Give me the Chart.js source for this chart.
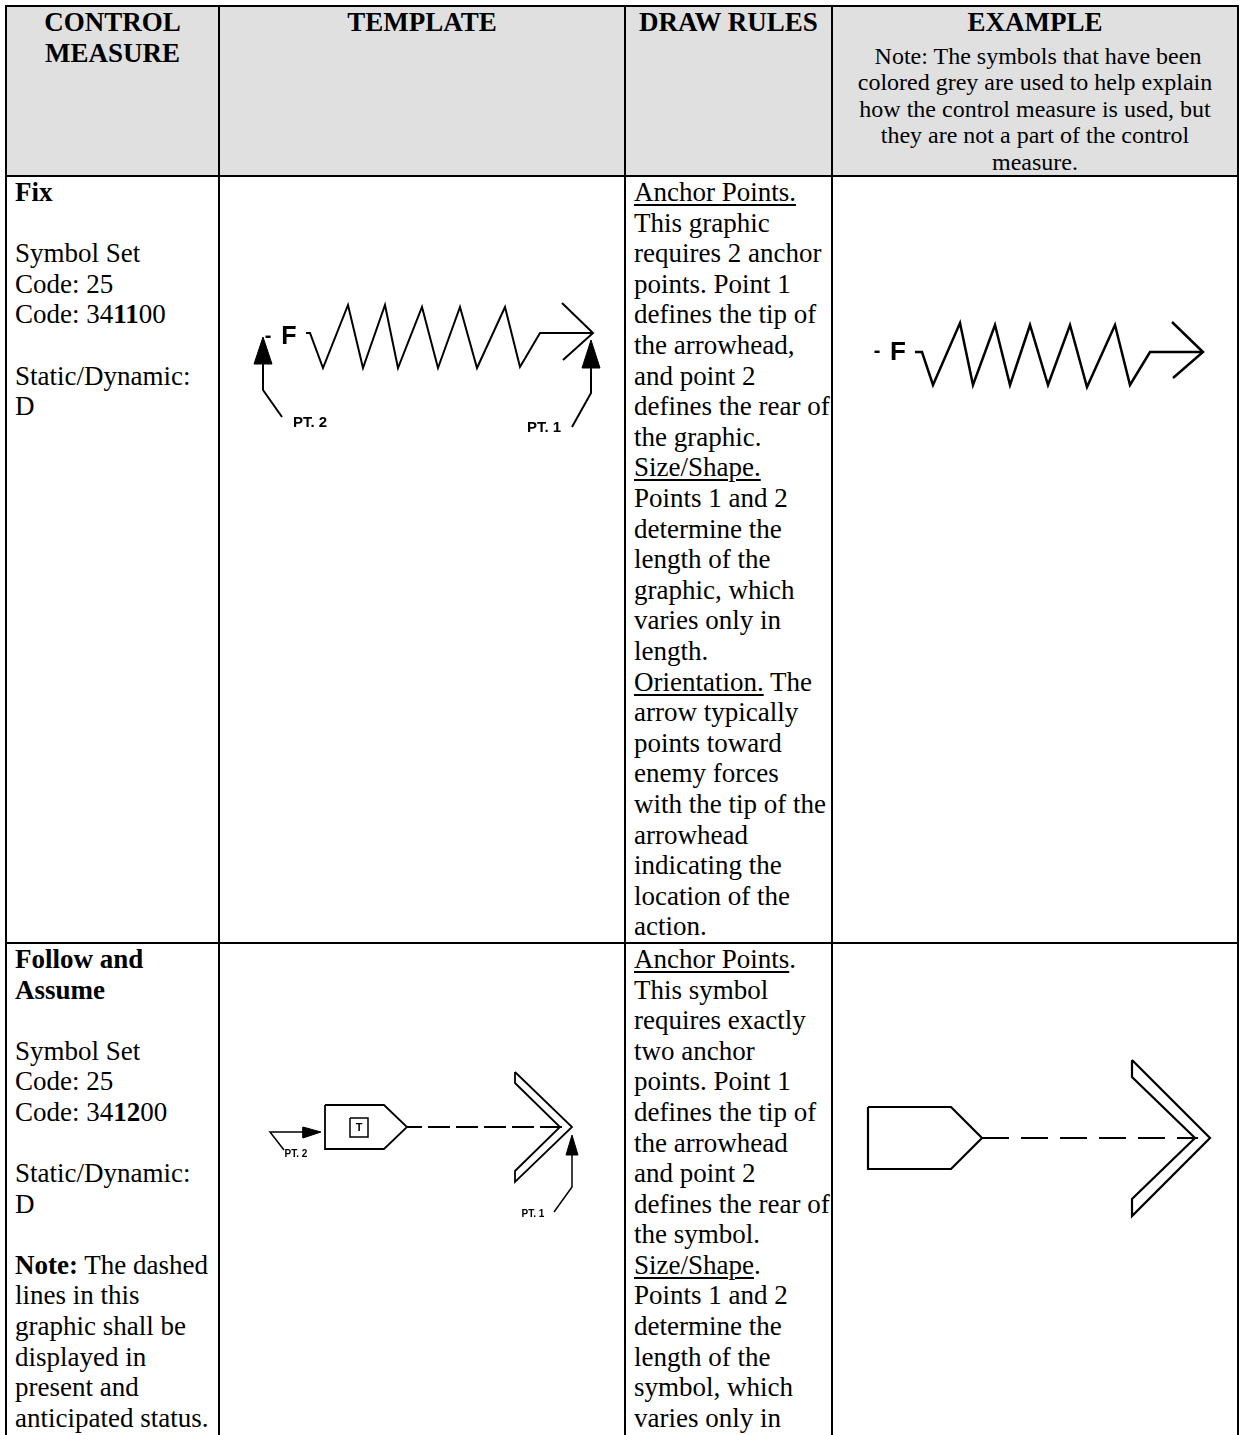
<!DOCTYPE html>
<html>
<head>
<meta charset="utf-8">
<script src="https://cdn.jsdelivr.net/npm/chart.js@4.4.0/dist/chart.umd.min.js"></script>
<style>
  body { margin: 0; background: #fff; }
  #page { position: relative; width: 1239px; height: 1435px; overflow: hidden; }
  table {
    position: absolute; left: 5px; top: 5px;
    border-collapse: collapse; table-layout: fixed; width: 1232px;
    font-family: "Liberation Serif", "Times New Roman", serif; font-size: 27px; line-height: 30.6px;
    color: #000;
  }
  td { border: 2px solid #000; vertical-align: top; padding: 0 3px 0 8px; white-space: nowrap; }
  tr.head td { background: #e0e0e0; text-align: center; font-weight: bold; padding: 0 2px; }
  .note { font-weight: normal; font-size: 24px; line-height: 26.5px; margin-top: 5px; }
  u { text-decoration-thickness: 2px; text-underline-offset: 3px; }
  canvas { position: absolute; }
</style>
</head>
<body>
<div id="page">
<table>
  <colgroup><col style="width:213px"><col style="width:406px"><col style="width:207px"><col style="width:406px"></colgroup>
  <tr class="head" style="height:169px">
    <td>CONTROL<br>MEASURE</td>
    <td>TEMPLATE</td>
    <td>DRAW RULES</td>
    <td>EXAMPLE<div class="note">&nbsp;Note: The symbols that have been<br>colored grey are used to help explain<br>how the control measure is used, but<br>they are not a part of the control<br>measure.</div></td>
  </tr>
  <tr>
    <td><b>Fix</b><br><br>Symbol Set<br>Code: 25<br>Code: 34<b>11</b>00<br><br>Static/Dynamic:<br>D</td>
    <td></td>
    <td><u>Anchor Points.</u><br>This graphic<br>requires 2 anchor<br>points. Point 1<br>defines the tip of<br>the arrowhead,<br>and point 2<br>defines the rear of<br>the graphic.<br><u>Size/Shape.</u><br>Points 1 and 2<br>determine the<br>length of the<br>graphic, which<br>varies only in<br>length.<br><u>Orientation.</u> The<br>arrow typically<br>points toward<br>enemy forces<br>with the tip of the<br>arrowhead<br>indicating the<br>location of the<br>action.</td>
    <td></td>
  </tr>
  <tr style="height:620px">
    <td><b>Follow and<br>Assume</b><br><br>Symbol Set<br>Code: 25<br>Code: 34<b>12</b>00<br><br>Static/Dynamic:<br>D<br><br><b>Note:</b> The dashed<br>lines in this<br>graphic shall be<br>displayed in<br>present and<br>anticipated status.</td>
    <td></td>
    <td><u>Anchor Points</u>.<br>This symbol<br>requires exactly<br>two anchor<br>points. Point 1<br>defines the tip of<br>the arrowhead<br>and point 2<br>defines the rear of<br>the symbol.<br><u>Size/Shape</u>.<br>Points 1 and 2<br>determine the<br>length of the<br>symbol, which<br>varies only in</td>
    <td></td>
  </tr>
</table>
<canvas id="fixTemplate"></canvas>
<canvas id="fixExample"></canvas>
<canvas id="followTemplate"></canvas>
<canvas id="followExample"></canvas>
</div>
<script>
// Symbol geometry, in page units (x to the right, y downward)

// Fix - template
const fixTplSpring = [[306,333],[310,333],[323,368],[348,305],[363,368],[385,305],[398,368],[422,307],[438,368],[460,307],[477,368],[505,307],[520,367],[540,333],[593,333]];
const fixTplHead = [[562,303],[593,333],[563,360]];
const fixTplPt2Line = [[263,360],[263,390],[282,417]];
const fixTplPt2Tip = [[263,337],[254,364],[272,364],[263,337]];
const fixTplPt1Line = [[591,365],[591,393],[572,427]];
const fixTplPt1Tip = [[591,340],[582,368],[600,368],[591,340]];
const fixTplText = [
    { text: '-', x: 268, y: 336, font: 'bold 20px "Liberation Sans"' },
    { text: 'F', x: 289, y: 337, font: 'bold 25px "Liberation Sans"' },
    { text: 'PT. 2', x: 310, y: 423, font: 'bold 15px "Liberation Sans"' },
    { text: 'PT. 1', x: 544, y: 428, font: 'bold 15px "Liberation Sans"' }
];

// Fix - example
const fixExSpring = [[915,352],[922,352],[933,385],[960,323],[973,385],[995,325],[1010,385],[1030,325],[1048,385],[1070,325],[1087,387],[1115,325],[1130,385],[1150,352],[1203,352]];
const fixExHead = [[1172,322],[1203,352],[1173,378]];
const fixExText = [
    { text: '-', x: 877, y: 351, font: 'bold 20px "Liberation Sans"' },
    { text: 'F', x: 898, y: 353, font: 'bold 26px "Liberation Sans"' }
];

// Follow and Assume - template
const faTplPentagon = [[325,1105],[384,1105],[407,1127],[384,1149],[325,1149],[325,1105]];
const faTplBox = [[350,1118],[368,1118],[368,1137],[350,1137],[350,1118]];
const faTplDash = [[407,1127],[564,1127]];
const faTplChevron = [[515,1072],[572,1127],[515,1182],[515,1171],[560,1127],[515,1083],[515,1072]];
const faTplPt2Line = [[284,1150],[270,1132],[306,1132]];
const faTplPt2Tip = [[321,1132],[303,1127],[303,1138],[321,1132]];
const faTplPt1Line = [[572,1152],[572,1187],[554,1212]];
const faTplPt1Tip = [[572,1135],[566,1155],[578,1155],[572,1135]];
const faTplText = [
    { text: 'T', x: 359, y: 1128, font: 'bold 11px "Liberation Sans"' },
    { text: 'PT. 2', x: 296, y: 1154, font: 'bold 10px "Liberation Sans"' },
    { text: 'PT. 1', x: 533, y: 1214, font: 'bold 10px "Liberation Sans"' }
];

// Follow and Assume - example
const faExPentagon = [[868,1107],[951,1107],[982,1138],[951,1169],[868,1169],[868,1107]];
const faExDash = [[982,1138],[1198,1138]];
const faExChevron = [[1132,1060],[1210,1138],[1132,1216],[1132,1199],[1195,1138],[1132,1077],[1132,1060]];

const textPlugin = {
    id: 'symbolText',
    afterDatasetsDraw(chart, args, opts) {
        const { ctx, scales: { x, y } } = chart;
        (opts.labels || []).forEach(l => {
            ctx.save();
            ctx.font = l.font;
            ctx.fillStyle = '#000';
            ctx.textAlign = 'center';
            ctx.textBaseline = 'middle';
            ctx.fillText(l.text, x.getPixelForValue(l.x), y.getPixelForValue(l.y));
            ctx.restore();
        });
    }
};

function path(points, width, extra) {
    return Object.assign({
        data: points.map(p => ({ x: p[0], y: p[1] })),
        showLine: true,
        borderColor: '#000',
        borderWidth: width,
        pointRadius: 0,
        fill: false
    }, extra || {});
}

function solid(points) {
    return path(points, 1, { fill: 'shape', backgroundColor: '#000' });
}

function drawSymbol(id, box, datasets, labels) {
    const canvas = document.getElementById(id);
    canvas.width = box[2] - box[0];
    canvas.height = box[3] - box[1];
    canvas.style.left = box[0] + 'px';
    canvas.style.top = box[1] + 'px';
    new Chart(canvas.getContext('2d'), {
        type: 'scatter',
        data: { datasets: datasets },
        options: {
            responsive: false,
            animation: false,
            events: [],
            layout: { padding: 0 },
            elements: { line: { tension: 0, borderJoinStyle: 'miter' } },
            scales: {
                x: { type: 'linear', display: false, min: box[0], max: box[2] },
                y: { type: 'linear', display: false, min: box[1], max: box[3], reverse: true }
            },
            plugins: {
                legend: { display: false },
                tooltip: { enabled: false },
                symbolText: { labels: labels || [] }
            }
        },
        plugins: [textPlugin]
    });
}

drawSymbol('fixTemplate', [240, 290, 620, 445], [
    path(fixTplSpring, 2),
    path(fixTplHead, 2),
    path(fixTplPt2Line, 2),
    solid(fixTplPt2Tip),
    path(fixTplPt1Line, 2),
    solid(fixTplPt1Tip)
], fixTplText);

drawSymbol('fixExample', [840, 290, 1236, 440], [
    path(fixExSpring, 2.5),
    path(fixExHead, 2.5)
], fixExText);

drawSymbol('followTemplate', [240, 1050, 620, 1230], [
    path(faTplPentagon, 1.8),
    path(faTplBox, 1.5),
    path(faTplDash, 1.8, { borderDash: [22, 6], borderDashOffset: 7 }),
    path(faTplChevron, 1.8),
    path(faTplPt2Line, 1.5),
    solid(faTplPt2Tip),
    path(faTplPt1Line, 1.5),
    solid(faTplPt1Tip)
], faTplText);

drawSymbol('followExample', [840, 1040, 1236, 1235], [
    path(faExPentagon, 2.2),
    path(faExDash, 2.2, { borderDash: [27, 12], borderDashOffset: 0 }),
    path(faExChevron, 2.2)
]);
</script>
</body>
</html>
